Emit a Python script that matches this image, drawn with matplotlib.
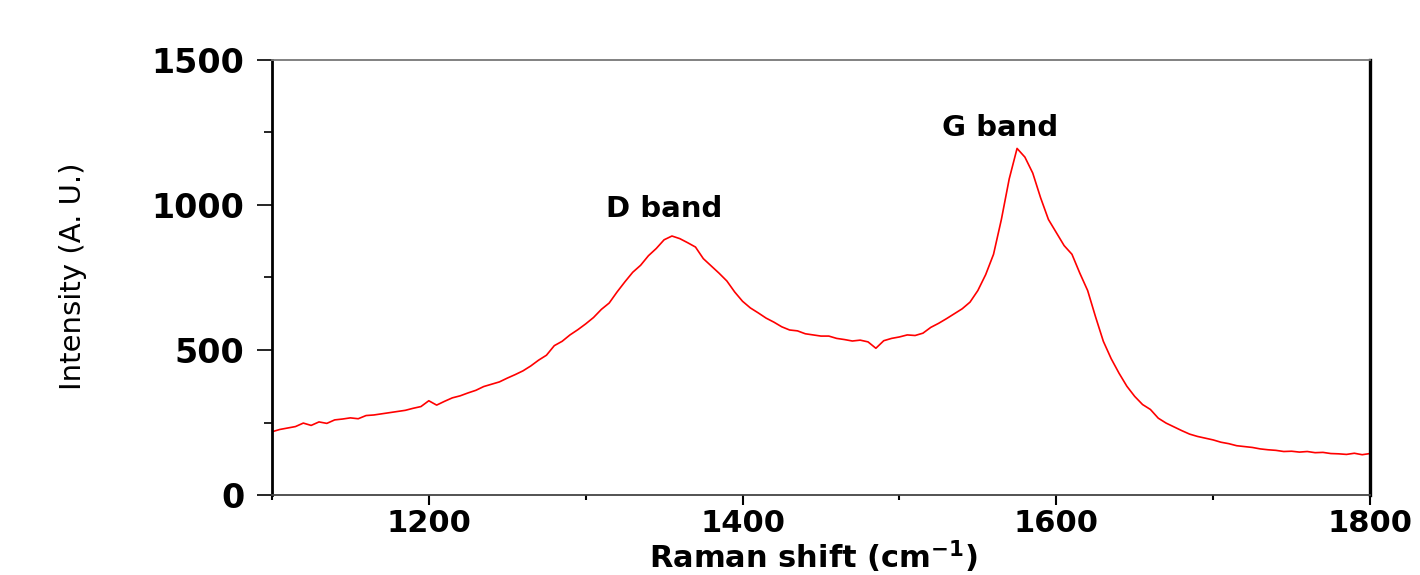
import numpy as np
import matplotlib
matplotlib.use("Agg")
import matplotlib.pyplot as plt
from matplotlib.ticker import FixedLocator

# Raman spectrum (cm^-1, a.u.)
raman_shift = list(range(1100, 1801, 5))
intensity = [
    218, 226, 231, 236, 248, 240, 252, 247, 259, 262,   # 1100-1145
    266, 263, 274, 276, 280, 284, 288, 292, 299, 305,   # 1150-1195
    325, 310, 323, 335, 342, 352, 361, 374, 382, 390,   # 1200-1245
    403, 415, 428, 445, 465, 482, 515, 530, 552, 570,   # 1250-1295
    590, 612, 640, 662, 700, 735, 768, 792, 825, 850,   # 1300-1345
    880, 893, 884, 870, 855, 815, 790, 765, 738, 700,   # 1350-1395
    668, 645, 628, 610, 596, 580, 569, 566, 556, 552,   # 1400-1445
    548, 548, 540, 536, 531, 534, 528, 506, 532, 540,   # 1450-1495
    545, 552, 550, 558, 578, 592, 608, 625, 642, 665,   # 1500-1545
    705, 760, 830, 950, 1090, 1195, 1165, 1110, 1025, 950,  # 1550-1595
    905, 860, 830, 765, 705, 615, 530, 470, 420, 375,   # 1600-1645
    340, 312, 295, 265, 248, 235, 222, 210, 202, 196,   # 1650-1695
    190, 182, 177, 170, 167, 164, 159, 156, 154, 150,   # 1700-1745
    151, 148, 150, 146, 147, 143, 142, 140, 144, 139,   # 1750-1795
    143,                                                # 1800
]

x_major = [1200, 1400, 1600, 1800]
x_minor = [1100, 1300, 1500, 1700]
y_major = [0, 500, 1000, 1500]
y_minor = [250, 750, 1250]

band_labels = ["D band", "G band"]
band_pos = [(1350, 985), (1564, 1265)]


def plot_spectrum():
    plt.rcParams["mathtext.default"] = "bf"
    fig = plt.figure(figsize=(14.2, 5.75), dpi=100)
    ax = fig.add_axes([0.1915, 0.1391, 0.7733, 0.7566])

    ax.plot(raman_shift, intensity, color="#ff0000", lw=1.2)

    ax.set_xlim(1100, 1800)
    ax.set_ylim(0, 1500)
    ax.xaxis.set_major_locator(FixedLocator(x_major))
    ax.xaxis.set_minor_locator(FixedLocator(x_minor))
    ax.yaxis.set_major_locator(FixedLocator(y_major))
    ax.yaxis.set_minor_locator(FixedLocator(y_minor))

    ax.tick_params(axis="y", which="major", direction="out", length=11, width=1.2, pad=9)
    ax.tick_params(axis="y", which="minor", direction="out", length=6, width=1.2)
    ax.tick_params(axis="x", which="major", direction="out", length=7, width=1.5, pad=3)
    ax.tick_params(axis="x", which="minor", direction="out", length=3.5, width=1.5)
    for lab in ax.get_yticklabels():
        lab.set_fontsize(24)
        lab.set_fontweight("bold")
    for lab in ax.get_xticklabels():
        lab.set_fontsize(22)
        lab.set_fontweight("bold")

    ax.spines["left"].set_linewidth(2.0)
    ax.spines["right"].set_linewidth(2.4)
    ax.spines["bottom"].set_linewidth(1.3)
    ax.spines["bottom"].set_color("#444444")
    ax.spines["top"].set_linewidth(1.3)
    ax.spines["top"].set_color("#777777")

    for label, (bx, by) in zip(band_labels, band_pos):
        ax.text(bx, by, label, ha="center", va="center", fontsize=21, fontweight="bold")

    fig.text(0.0514, 0.519, "Intensity (A. U.)", rotation=90, ha="center", va="center",
             fontsize=21, fontweight="medium")
    fig.text(0.5729, 0.012, r"Raman shift (cm$^{-1}$)", ha="center", va="baseline",
             fontsize=22, fontweight="bold")

    fig.savefig("out.png", dpi=100)


def main():
    plot_spectrum()


if __name__ == "__main__":
    main()
